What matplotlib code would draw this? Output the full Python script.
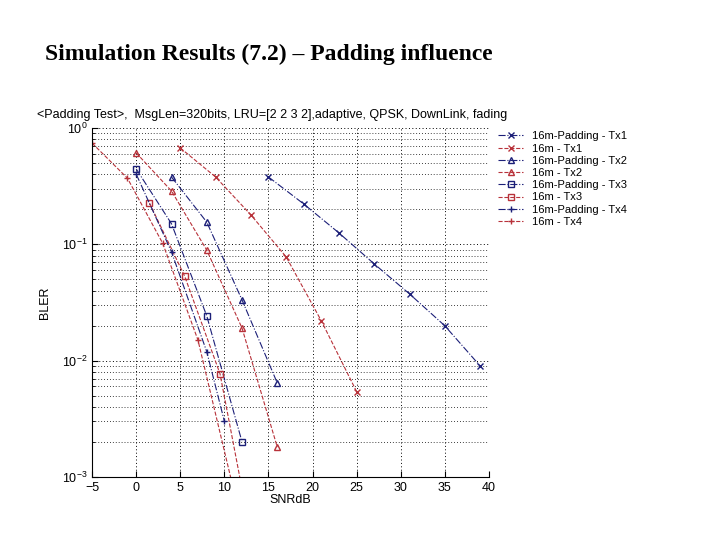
import numpy as np
import matplotlib as mpl
import matplotlib.pyplot as plt

mpl.rcParams['font.family'] = ['Liberation Sans', 'DejaVu Sans']
mpl.rcParams['mathtext.fontset'] = 'custom'
mpl.rcParams['mathtext.rm'] = 'Liberation Sans'

# values (SNR in dB, BLER)
pad_tx1_x = [15, 19, 23, 27, 31, 35, 39]
pad_tx1_y = [0.379, 0.222, 0.125, 0.0677, 0.0374, 0.0199, 0.009]

m16_tx1_x = [5, 9, 13, 17, 21, 25]
m16_tx1_y = [0.673, 0.379, 0.179, 0.078, 0.0219, 0.0054]

pad_tx2_x = [4, 8, 12, 16]
pad_tx2_y = [0.379, 0.155, 0.0332, 0.0064]

m16_tx2_x = [0, 4, 8, 12, 16]
m16_tx2_y = [0.61, 0.287, 0.089, 0.019, 0.0018]

pad_tx3_x = [0, 4, 8, 12]
pad_tx3_y = [0.444, 0.150, 0.0242, 0.0020]

m16_tx3_x = [1.5, 5.5, 9.5, 13.5]
m16_tx3_y = [0.226, 0.053, 0.0077, 0.0002]

pad_tx4_x = [0, 4, 8, 10]
pad_tx4_y = [0.40, 0.086, 0.0119, 0.0030]

m16_tx4_x = [-5, -1, 3, 7, 11]
m16_tx4_y = [0.74, 0.37, 0.102, 0.015, 0.0008]

labels = ['16m-Padding - Tx1', '16m - Tx1', '16m-Padding - Tx2', '16m - Tx2',
          '16m-Padding - Tx3', '16m - Tx3', '16m-Padding - Tx4', '16m - Tx4']
xticks = [-5, 0, 5, 10, 15, 20, 25, 30, 35, 40]

BLUE = '#1c1f78'
RED = '#b8323a'


def main():
    fig = plt.figure(figsize=(7.2, 5.4), dpi=100)
    fig.patch.set_facecolor('white')

    fig.text(0.062, 0.888, 'Simulation Results (7.2) \u2013 Padding influence',
             family='Liberation Serif', fontweight='bold', fontsize=17)

    ax = fig.add_axes([0.128, 0.117, 0.551, 0.646])

    series = [
        (pad_tx1_x, pad_tx1_y, BLUE, '-.', 'x'),
        (m16_tx1_x, m16_tx1_y, RED, '--', 'x'),
        (pad_tx2_x, pad_tx2_y, BLUE, '-.', '^'),
        (m16_tx2_x, m16_tx2_y, RED, '--', '^'),
        (pad_tx3_x, pad_tx3_y, BLUE, '-.', 's'),
        (m16_tx3_x, m16_tx3_y, RED, '--', 's'),
        (pad_tx4_x, pad_tx4_y, BLUE, '-.', '+'),
        (m16_tx4_x, m16_tx4_y, RED, '--', '+'),
    ]
    for (x, y, c, ls, mk), lab in zip(series, labels):
        ax.semilogy(x, y, color=c, linestyle=ls, marker=mk, markersize=5,
                    markerfacecolor='none', linewidth=0.8, label=lab)

    ax.set_xlim(-5, 40)
    ax.set_ylim(1e-3, 1)
    ax.set_xticks(xticks)
    ax.grid(True, which='major', linestyle=(0, (1, 2.5)), color='black', linewidth=0.7)
    ax.grid(True, which='minor', axis='y', linestyle=(0, (1, 2.5)), color='black', linewidth=0.6)
    ax.tick_params(direction='in', labelsize=9, length=4)
    ax.tick_params(which='minor', direction='in', length=2)
    ax.spines['top'].set_visible(False)
    ax.spines['right'].set_visible(False)

    ax.set_xlabel('SNRdB', fontsize=9, labelpad=0)
    ax.set_ylabel('BLER', fontsize=9, labelpad=8)

    fig.text(0.051, 0.782,
             '<Padding Test>,  MsgLen=320bits, LRU=[2 2 3 2],adaptive, QPSK, DownLink, fading',
             fontsize=9)

    ax.legend(loc='upper left', bbox_to_anchor=(0.686, 0.765), bbox_transform=fig.transFigure,
              frameon=False, fontsize=8, handlelength=2.2, labelspacing=0.2,
              borderaxespad=0, handletextpad=0.8)

    fig.savefig('out.png', dpi=100)


if __name__ == '__main__':
    main()
